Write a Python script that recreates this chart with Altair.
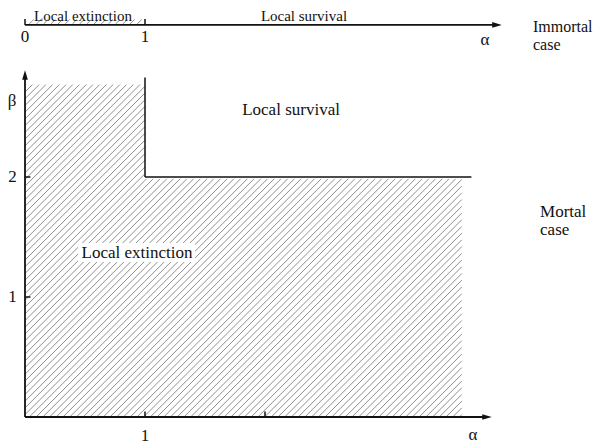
import altair as alt
import pandas as pd
import math

# ---- diagram values (alpha / beta units) ----
alpha_crit = 1.0          # critical alpha
beta_crit = 2.0           # critical beta
alpha_hatch_max = 3.64    # right end of hatched region
beta_hatch_max = 2.77     # top of hatched region (left part)
beta_hatch_right = 1.985  # top of hatched region (right part)
alpha_line_end = 3.72     # end of beta=2 boundary line
beta_vline_top = 2.83     # top of alpha=1 boundary line
beta_top_axis = 3.267     # level of immortal-case axis
main_x_ticks = [1, 2]
main_x_labels = ["1"]
main_y_ticks = [1, 2]
main_y_labels = ["1", "2"]
top_ticks = [0, 1]
top_labels = ["0", "1"]

X_DOM = [-0.14167, 4.73333]
Y_DOM = [-0.25833, 3.40833]
xs = alt.Scale(domain=X_DOM, nice=False, zero=False)
ys = alt.Scale(domain=Y_DOM, nice=False, zero=False)
FONT = "Liberation Serif"


def hatch(x0, x1, y0, y1, step, c0=0.0):
    segs = []
    k = math.floor((y0 - x1 - c0) / step)
    c = c0 + k * step
    while c < y1 - x0:
        xa = max(x0, y0 - c)
        xb = min(x1, y1 - c)
        if xb > xa:
            segs.append(dict(x=xa, y=xa + c, x2=xb, y2=xb + c))
        c += step
    return segs


step = 0.056
hs = hatch(0.0, alpha_crit, 0.0, beta_hatch_max, step, 0.02)
hs += hatch(alpha_crit, alpha_hatch_max, 0.0, beta_hatch_right, step, 0.02)
hs += hatch(0.02, 0.98, beta_top_axis + 0.008, beta_top_axis + 0.046, 0.06)
hatch_df = pd.DataFrame(hs)

# black lines: axes, boundary, ticks
lines = [
    dict(x=0, y=0, x2=3.85, y2=0, w=1.8),                 # main alpha axis
    dict(x=0, y=0, x2=0, y2=2.85, w=1.8),                 # beta axis
    dict(x=0, y=beta_top_axis, x2=3.933, y2=beta_top_axis, w=1.8),  # top axis
    dict(x=alpha_crit, y=beta_crit, x2=alpha_crit, y2=beta_vline_top, w=1.5),
    dict(x=alpha_crit, y=beta_crit, x2=alpha_line_end, y2=beta_crit, w=1.5),
]
for t in main_x_ticks:
    lines.append(dict(x=t, y=0, x2=t, y2=0.045, w=1.5))
for t in main_y_ticks:
    lines.append(dict(x=0, y=t, x2=0.045, y2=t, w=1.5))
for t in top_ticks:
    lines.append(dict(x=t, y=beta_top_axis, x2=t, y2=beta_top_axis + 0.05, w=1.5))
lines_df = pd.DataFrame(lines)

arrows_df = pd.DataFrame([
    dict(x=3.85, y=0.0, s="M-1,-0.6L1,0L-1,0.6Z"),
    dict(x=3.933, y=beta_top_axis, s="M-1,-0.6L1,0L-1,0.6Z"),
    dict(x=0.0, y=2.85, s="M-0.6,1L0,-1L0.6,1Z"),
])

box_df = pd.DataFrame([dict(x=0.442, x2=1.417, y=1.292, y2=1.45)])

top_texts = pd.DataFrame([
    dict(x=0.483, y=3.304, t="Local extinction"),
    dict(x=2.325, y=3.304, t="Local survival"),
])

texts_c = pd.DataFrame([
    dict(x=2.217, y=2.558, t="Local survival"),
    dict(x=0.933, y=1.367, t="Local extinction"),
    dict(x=top_ticks[0], y=3.167, t=top_labels[0]),
    dict(x=top_ticks[1], y=3.167, t=top_labels[1]),
    dict(x=3.833, y=3.142, t="α"),
    dict(x=main_x_ticks[0], y=-0.16, t=main_x_labels[0]),
    dict(x=3.733, y=-0.15, t="α"),
    dict(x=-0.104, y=main_y_ticks[0], t=main_y_labels[0]),
    dict(x=-0.104, y=main_y_ticks[1], t=main_y_labels[1]),
    dict(x=-0.108, y=2.633, t="β"),
])
texts_imm = pd.DataFrame([
    dict(x=4.233, y=3.25, t="Immortal"),
    dict(x=4.233, y=3.10, t="case"),
])
texts_l = pd.DataFrame([
    dict(x=4.292, y=1.708, t="Mortal"),
    dict(x=4.292, y=1.558, t="case"),
])

enc_seg = dict(
    x=alt.X("x:Q", scale=xs, axis=None),
    y=alt.Y("y:Q", scale=ys, axis=None),
    x2="x2:Q",
    y2="y2:Q",
)
enc_pt = dict(
    x=alt.X("x:Q", scale=xs, axis=None),
    y=alt.Y("y:Q", scale=ys, axis=None),
)

hatch_layer = alt.Chart(hatch_df).mark_rule(color="#8f8f8f", strokeWidth=1).encode(**enc_seg)
box_layer = alt.Chart(box_df).mark_rect(color="white").encode(**enc_seg)
line_layer = alt.Chart(lines_df).mark_rule(color="#111111").encode(
    **enc_seg, strokeWidth=alt.StrokeWidth("w:Q", scale=None, legend=None)
)
arrow_layer = alt.Chart(arrows_df).mark_point(filled=True, color="#111111", size=90, opacity=1).encode(
    **enc_pt,
    shape=alt.Shape("s:N", scale=None, legend=None),
)
top_text_layer = alt.Chart(top_texts).mark_text(
    font=FONT, fontSize=15, color="#111111", align="center", baseline="alphabetic"
).encode(**enc_pt, text="t:N")
text_c_layer = alt.Chart(texts_c).mark_text(
    font=FONT, fontSize=17, color="#111111", align="center", baseline="middle"
).encode(**enc_pt, text="t:N")
text_imm_layer = alt.Chart(texts_imm).mark_text(
    font=FONT, fontSize=16, color="#111111", align="left", baseline="middle"
).encode(**enc_pt, text="t:N")
text_l_layer = alt.Chart(texts_l).mark_text(
    font=FONT, fontSize=17, color="#111111", align="left", baseline="middle"
).encode(**enc_pt, text="t:N")

chart = alt.layer(
    hatch_layer, box_layer, line_layer, arrow_layer, top_text_layer,
    text_c_layer, text_imm_layer, text_l_layer
).properties(
    width=585,
    height=440,
    padding=0,
    autosize=alt.AutoSizeParams(type="none"),
    background="white",
).configure_view(stroke=None)

chart.save("out.html", embed_options={"renderer": "svg", "actions": False})
